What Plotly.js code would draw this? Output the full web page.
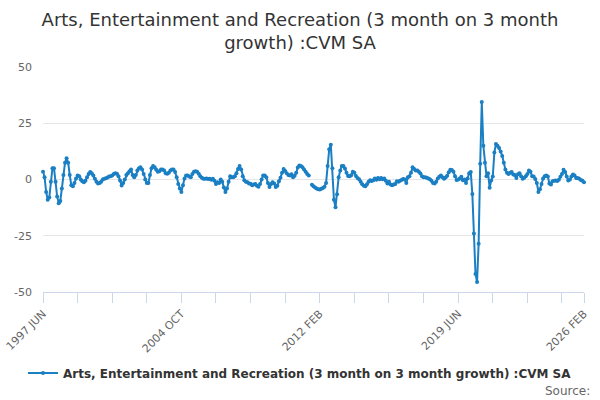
<!DOCTYPE html>
<html>
<head>
<meta charset="utf-8">
<script src="https://cdn.plot.ly/plotly-3.0.1.min.js"></script>
<style>
html,body{margin:0;padding:0;background:#fff;}
#chart{width:600px;height:400px;}
</style>
</head>
<body>
<div id="chart"></div>
<script>
// 3 month on 3 month growth (%), monthly, from 1997 JUN to 2026 FEB
const g1997_2000 = [3.5, 1, -5.5, -9, -8, -1, 5, 5, -1, -7.5, -10.5, -9.5, -4, 2, 7.5, 9.5, 7.5, 2, -2.5, -3, -1.5, 0.5, 1.8, 1.5, 0, -0.8, -1.2, -0.5, 1, 2.5, 3.3, 2.8, 1.8, 0.3, -1, -1.8, -1.5, -1, 0, 0.3, 0.6, 0.9, 1.3];
const g2001_2004 = [1.5, 1.8, 2.5, 2.8, 2.6, 1.5, -0.4, -2.7, -1.5, 0, 2, 2.8, 3.7, 4.5, 2, 1, 2, 4, 5, 5.5, 4.5, 2.5, 0, -1.5, -1.5, 2, 5, 6, 5.5, 4.3, 3.5, 3.7, 4.5, 4.5, 4, 2.8, 2.6, 3, 4, 4.5, 4.5, 3.3, 1, -2, -4, -5.5, -2.5, 0.5];
const g2005_2008 = [1.8, 1.8, 1.3, 1, 2.5, 3.5, 3.7, 3.5, 2.6, 1.5, 0.8, 0.3, 0.3, 0.5, 0.2, 0.3, -0.1, 0.3, -0.5, -2, -1.2, -1.5, 0, -1, -3.5, -5.5, -4, -1, 1.5, 1, 1, 1.5, 2.8, 4.7, 6, 4.5, 1.5, -0.3, -1, -1.2, -1.8, -1.9, -2.5, -2.2, -2, -2.8, -3.2, -2];
const g2009_2012 = [0, 1.8, 1.8, 1, -1.5, -3.3, -2, -1.2, -1.8, -3.3, -2.8, -0.8, 0.8, 3, 4.7, 3.8, 2.8, 2, 1.8, 2.3, 1, 1.7, 3, 5.3, 6.2, 6, 5.5, 4.5, 3.5, 2.5, 1.8, null, -2.3, -3, -3.5, -4, -4.3, -4.4, -4.1, -3.8, -3.2, -1.5, 6, 13.5, 15.5, 5, -9, -12.3];
const g2013_2016 = [-6.5, 1, 4, 6, 6, 4.9, 3, 1.6, 1.5, 1.9, 3.4, 3, 1.6, 0.7, 0.1, -1, -2.1, -2.8, -3, -2.1, -1, -0.3, -0.7, -0.3, 0.4, -0.1, 0.7, 0.1, 0.7, 0.1, 0.4, -0.6, -1.8, -1, -2.2, -2.5, -2.2, -2, -0.8, -1, -0.6, -0.2, 0.2, 0, -1.5, 1, 1.5, 3];
const g2017_2020 = [5.5, 4.7, 4, 4, 3.4, 2.7, 1.5, 1, 1, 0.8, 0.5, 0.1, -0.6, -1.6, -1.8, -1, 0.4, 1.2, 1.8, 1, 0.3, 0.9, 1.7, 3.2, 4.3, 4.2, 3.5, 1.5, -0.2, 0, 0.5, 1.2, -0.3, 0, -1.5, 0.5, 2.8, 3.3, -6.4, -24, -42, -45.5, -28.5, 7, 34.4, 15, 7.5, 1.5];
const g2021_2024 = [2.8, -3.7, -0.4, 1.3, 12, 15.8, 15, 14, 12.5, 10.5, 7.5, 4.5, 3, 2.5, 3, 3.3, 2.2, 2, 0.7, 2.3, 2.8, 1.5, 0.3, 0.8, 1.5, 2.5, 4, 3.5, 1.5, 1.3, 0.2, -1.5, -5.5, -4.3, -2, 0.5, 1.5, 1.8, 1.3, -1.8, -2.2, -0.8, -0.5, -0.4, -0.7, -0.1, 1.2, 2.5];
const g2025_2026 = [4.3, 3.3, 1.3, -0.4, 0, 1.3, 2.2, 1.8, 0.7, 0.7, 0.3, -0.2, -0.6, -1.2];

const growth = [].concat(g1997_2000, g2001_2004, g2005_2008, g2009_2012, g2013_2016, g2017_2020, g2021_2024, g2025_2026);

const monthNames = ['JAN','FEB','MAR','APR','MAY','JUN','JUL','AUG','SEP','OCT','NOV','DEC'];
const startYear = 1997, startMonth = 5; // 1997 JUN
const months = growth.map((_, i) => {
  const m = startMonth + i;
  return (startYear + Math.floor(m / 12)) + ' ' + monthNames[m % 12];
});

const labelledTicks = ['1997 JUN', '2004 OCT', '2012 FEB', '2019 JUN', '2026 FEB'];
const yTicks = [-50, -25, 0, 25, 50];

const seriesName = 'Arts, Entertainment and Recreation (3 month on 3 month growth) :CVM SA';
const titleText = 'Arts, Entertainment and Recreation (3 month on 3 month<br>growth) :CVM SA';

// tick marks every 22 months plus the last month
const tickIdx = [];
for (let i = 0; i < months.length; i += 22) tickIdx.push(i);
if (tickIdx[tickIdx.length - 1] !== months.length - 1) tickIdx.push(months.length - 1);
const tickvals = tickIdx.map(i => months[i]);
const ticktext = tickvals.map(v => labelledTicks.includes(v) ? v : '');

const FONT = 'DejaVu Sans, sans-serif';
const LINE = '#1a7fc3';

const trace = {
  type: 'scatter',
  mode: 'lines+markers',
  x: months,
  y: growth,
  name: seriesName,
  line: {color: LINE, width: 2},
  marker: {color: LINE, size: 4, symbol: 'circle'},
  connectgaps: false,
  cliponaxis: false,
  hoverinfo: 'x+y'
};

const layout = {
  width: 600,
  height: 400,
  paper_bgcolor: '#ffffff',
  plot_bgcolor: '#ffffff',
  margin: {l: 43, r: 16, t: 67, b: 108},
  font: {family: FONT, color: '#333333'},
  title: {
    text: titleText,
    font: {family: FONT, size: 18, color: '#333333'},
    x: 0.5, xanchor: 'center',
    xref: 'container',
    yref: 'container', y: 0.935, yanchor: 'top'
  },
  showlegend: true,
  legend: {
    orientation: 'h',
    x: 0.5, xanchor: 'center', xref: 'container',
    y: 0.0675, yanchor: 'middle', yref: 'container',
    itemwidth: 30,
    font: {family: FONT, size: 12, color: '#333333', weight: 'bold'},
    bgcolor: 'rgba(0,0,0,0)'
  },
  xaxis: {
    type: 'category',
    range: [0, months.length - 1],
    tickmode: 'array',
    tickvals: tickvals,
    ticktext: ticktext,
    tickangle: -45,
    ticks: 'outside',
    ticklen: 10,
    tickcolor: '#ccd6eb',
    tickwidth: 1,
    showline: true,
    linecolor: '#ccd6eb',
    linewidth: 1,
    showgrid: false,
    zeroline: false,
    tickfont: {family: FONT, size: 11, color: '#666666'},
    fixedrange: true
  },
  yaxis: {
    range: [-50, 50],
    tickmode: 'array',
    tickvals: yTicks,
    ticktext: yTicks.map(String),
    showgrid: true,
    gridcolor: '#e6e6e6',
    gridwidth: 1,
    zeroline: false,
    showline: false,
    ticks: '',
    ticklabelstandoff: 10,
    tickfont: {family: FONT, size: 11, color: '#666666'},
    fixedrange: true
  },
  annotations: [{
    text: 'Source:',
    xref: 'paper', yref: 'paper',
    x: 1.015, xanchor: 'right',
    y: -0.44, yanchor: 'middle',
    showarrow: false,
    font: {family: FONT, size: 12, color: '#666666'}
  }]
};

Plotly.newPlot('chart', [trace], layout, {displayModeBar: false, staticPlot: true});
</script>
</body>
</html>
